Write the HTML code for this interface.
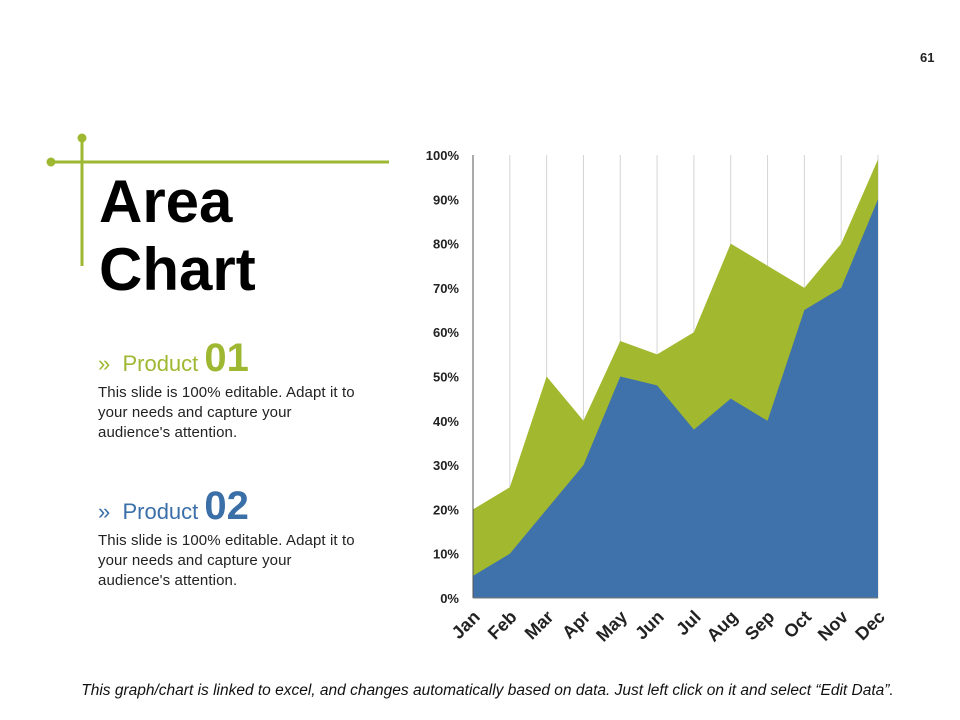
<!DOCTYPE html>
<html><head><meta charset="utf-8"><style>
body{margin:0;width:960px;height:720px;background:#fff;position:relative;overflow:hidden;font-family:"Liberation Sans",sans-serif}
.abs{position:absolute}
.title{left:99px;top:168px;font-size:60px;font-weight:bold;line-height:68px;color:#000}
.prod{left:98px;font-size:22px;white-space:nowrap}
.prod b{font-size:40px}
.desc{left:98px;font-size:15px;line-height:20px;color:#222;white-space:nowrap;letter-spacing:0.1px}
</style></head><body>
<div class="abs" style="left:920px;top:50px;font-size:13px;font-weight:bold;color:#222">61</div>
<svg class="abs" style="left:0;top:0" width="400" height="300">
<line x1="50" y1="162" x2="389" y2="162" stroke="#9fb832" stroke-width="3"/>
<line x1="82" y1="139" x2="82" y2="266" stroke="#9fb832" stroke-width="3"/>
<circle cx="82" cy="138" r="4.5" fill="#9fb832"/><circle cx="51" cy="162" r="4.5" fill="#9fb832"/>
</svg>
<div class="abs title">Area<br>Chart</div>
<div class="abs prod" style="top:336px;color:#9fb832">» &nbsp;Product <b>01</b></div>
<div class="abs desc" style="top:383px">This slide is 100% editable. Adapt it to<br>your needs and capture your<br>audience's attention.</div>
<div class="abs prod" style="top:484px;color:#3b6fa8">» &nbsp;Product <b style="color:#3b6fa8">02</b></div>
<div class="abs desc" style="top:531px">This slide is 100% editable. Adapt it to<br>your needs and capture your<br>audience's attention.</div>
<svg class="abs" id="chart" style="left:0;top:0" width="960" height="720"></svg>
<div class="abs" style="left:0;width:975px;text-align:center;top:682px;font-size:15.5px;font-style:italic;color:#111;white-space:nowrap">This graph/chart is linked to excel, and changes automatically based on data. Just left click on it and select “Edit Data”.</div>
<script>
const months=["Jan","Feb","Mar","Apr","May","Jun","Jul","Aug","Sep","Oct","Nov","Dec"];
const product02=[5,10,20,30,50,48,38,45,40,65,70,90];
const product01Top=[20,25,50,40,58,55,60,80,75,70,80,99];
const yTicks=[0,10,20,30,40,50,60,70,80,90,100];
const svg=document.getElementById('chart');const NS='http://www.w3.org/2000/svg';
const X0=473,X1=878,Y0=598,Y1=155;
const x=i=>X0+(X1-X0)*i/(months.length-1);
const y=v=>Y0-(Y0-Y1)*v/100;
function mk(t,a){const e=document.createElementNS(NS,t);for(const k in a)e.setAttribute(k,a[k]);svg.appendChild(e);return e;}
months.forEach((m,i)=>{if(i>0){const g=mk('line',{x1:x(i),x2:x(i),y1:Y1,y2:Y0,stroke:'#d4d4d4','stroke-width':1});

}});
function area(vals,fill,name){let d='M'+x(0)+','+Y0;vals.forEach((v,i)=>d+=' L'+x(i)+','+y(v));d+=' L'+x(vals.length-1)+','+Y0+' Z';
const p=mk('path',{d:d,fill:fill});

}
area(product01Top,'#a2b82e','area-product-01');
area(product02,'#3f72aa','area-product-02');
const ax=mk('line',{x1:X0,x2:X0,y1:Y1,y2:Y0,stroke:'#555','stroke-width':1});


const bx=mk('line',{x1:X0,x2:X1,y1:Y0,y2:Y0,stroke:'#777','stroke-width':1});


yTicks.forEach(t=>{const e=mk('text',{x:459,y:y(t)+5,'text-anchor':'end','font-size':13,'font-weight':'bold',fill:'#222','font-family':'Liberation Sans, sans-serif'});e.textContent=t+'%';

});
months.forEach((m,i)=>{const e=mk('text',{x:x(i)+8,y:Y0+20,'text-anchor':'end','font-size':18,'font-weight':'bold',fill:'#222','font-family':'Liberation Sans, sans-serif',transform:'rotate(-45 '+(x(i)+8)+' '+(Y0+20)+')'});e.textContent=m;

});
</script>
</body></html>
